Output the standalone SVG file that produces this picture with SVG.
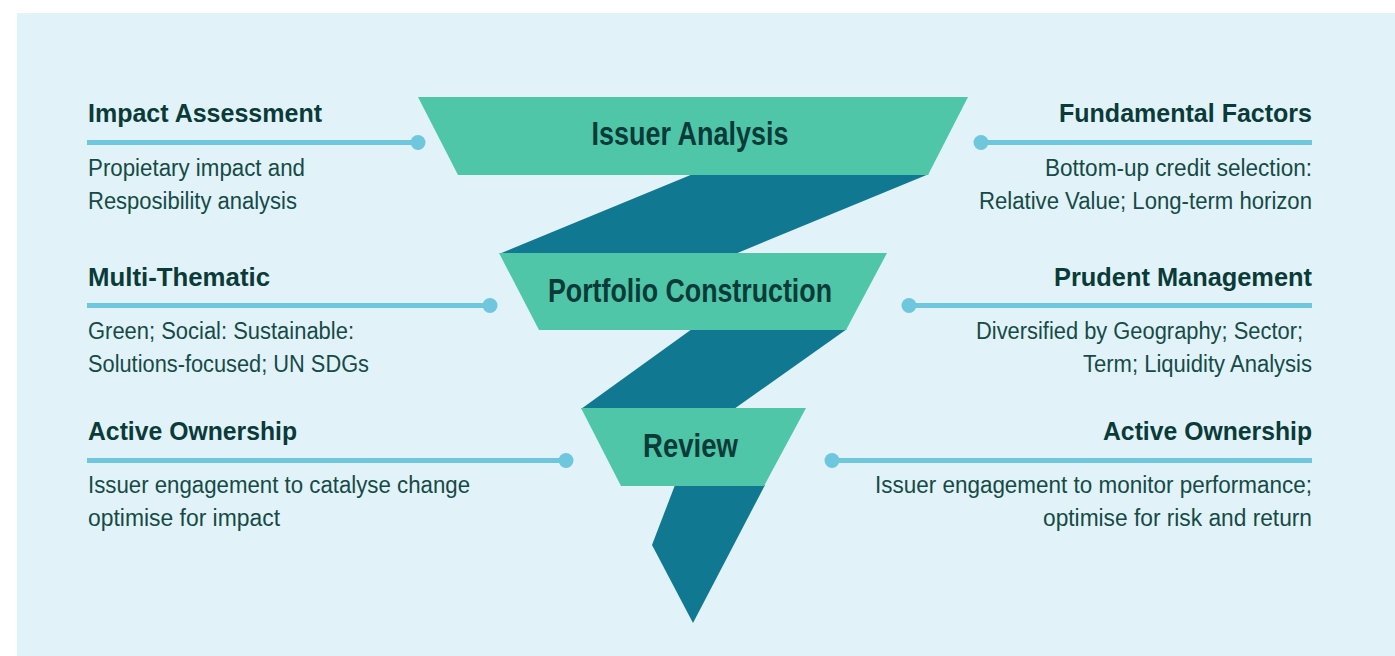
<svg xmlns="http://www.w3.org/2000/svg" width="1395" height="656" viewBox="0 0 1395 656">
  <style>
    .panel { fill: #E1F3F8; }
    .stage { fill: #4FC6A7; }
    .band { fill: #117892; }
    .stage-label { font-family: "Liberation Sans", Arial, sans-serif; font-size: 33px; font-weight: bold; fill: #0A3B39; text-anchor: middle; }
    .head { font-family: "Liberation Sans", Arial, sans-serif; font-size: 26px; font-weight: bold; fill: #0A3B39; }
    .body { font-family: "Liberation Sans", Arial, sans-serif; font-size: 23px; fill: #164A47; }
    .end { text-anchor: end; }
    .link { stroke: #6EC7DC; stroke-width: 5; fill: none; }
    .dot { fill: #6EC7DC; }
  </style>

  <!-- background panel -->
  <rect class="panel" x="17" y="13" width="1378" height="643"/>

  <!-- dark folds of the funnel ribbon -->
  <g id="funnel-bands">
    <polygon class="band" points="693,174 929,174 735,254 499,254"/>
    <polygon class="band" points="692,329 847,329 734,409 581,409"/>
    <polygon class="band" points="675,485 765,485 693,623 652,545"/>
  </g>

  <!-- funnel stages -->
  <g id="stage-issuer-analysis">
    <polygon class="stage" points="418,97 968,97 928,175 458,175"/>
    <text class="stage-label" x="690" y="145" textLength="197" lengthAdjust="spacingAndGlyphs">Issuer Analysis</text>
  </g>
  <g id="stage-portfolio-construction">
    <polygon class="stage" points="499,253 887,253 846,330 539,330"/>
    <text class="stage-label" x="690" y="301.5" textLength="284" lengthAdjust="spacingAndGlyphs">Portfolio Construction</text>
  </g>
  <g id="stage-review">
    <polygon class="stage" points="581,408 806,408 764,486 621,486"/>
    <text class="stage-label" x="690.5" y="457" textLength="95" lengthAdjust="spacingAndGlyphs">Review</text>
  </g>

  <!-- leader lines from the stages to the side notes -->
  <g id="connectors">
    <line class="link" x1="87" y1="142.5" x2="418" y2="142.5"/>
    <circle class="dot" cx="418" cy="142.5" r="7.5"/>
    <line class="link" x1="981" y1="142.5" x2="1312" y2="142.5"/>
    <circle class="dot" cx="981" cy="142.5" r="7.5"/>

    <line class="link" x1="87" y1="305.5" x2="490" y2="305.5"/>
    <circle class="dot" cx="490" cy="305.5" r="7.5"/>
    <line class="link" x1="909" y1="305.5" x2="1312" y2="305.5"/>
    <circle class="dot" cx="909" cy="305.5" r="7.5"/>

    <line class="link" x1="87" y1="460.5" x2="566" y2="460.5"/>
    <circle class="dot" cx="566" cy="460.5" r="7.5"/>
    <line class="link" x1="832" y1="460.5" x2="1312" y2="460.5"/>
    <circle class="dot" cx="832" cy="460.5" r="7.5"/>
  </g>

  <!-- left notes -->
  <g id="note-impact-assessment">
    <text class="head" x="88" y="122" textLength="234" lengthAdjust="spacingAndGlyphs">Impact Assessment</text>
    <text class="body" x="88" y="176" textLength="217" lengthAdjust="spacingAndGlyphs">Propietary impact and</text>
    <text class="body" x="88" y="209" textLength="209" lengthAdjust="spacingAndGlyphs">Resposibility analysis</text>
  </g>
  <g id="note-multi-thematic">
    <text class="head" x="88" y="285.5" textLength="182" lengthAdjust="spacingAndGlyphs">Multi-Thematic</text>
    <text class="body" x="88" y="338.5" textLength="266" lengthAdjust="spacingAndGlyphs">Green; Social: Sustainable:</text>
    <text class="body" x="88" y="371.5" textLength="281" lengthAdjust="spacingAndGlyphs">Solutions-focused; UN SDGs</text>
  </g>
  <g id="note-active-ownership-left">
    <text class="head" x="88" y="440" textLength="209" lengthAdjust="spacingAndGlyphs">Active Ownership</text>
    <text class="body" x="88" y="493" textLength="382" lengthAdjust="spacingAndGlyphs">Issuer engagement to catalyse change</text>
    <text class="body" x="88" y="526" textLength="192" lengthAdjust="spacingAndGlyphs">optimise for impact</text>
  </g>

  <!-- right notes -->
  <g id="note-fundamental-factors">
    <text class="head end" x="1312" y="122" textLength="253" lengthAdjust="spacingAndGlyphs">Fundamental Factors</text>
    <text class="body end" x="1312" y="176" textLength="267" lengthAdjust="spacingAndGlyphs">Bottom-up credit selection:</text>
    <text class="body end" x="1312" y="209" textLength="333" lengthAdjust="spacingAndGlyphs">Relative Value; Long-term horizon</text>
  </g>
  <g id="note-prudent-management">
    <text class="head end" x="1312" y="285.5" textLength="258" lengthAdjust="spacingAndGlyphs">Prudent Management</text>
    <text class="body end" x="1303" y="338.5" textLength="327" lengthAdjust="spacingAndGlyphs">Diversified by Geography; Sector;</text>
    <text class="body end" x="1312" y="371.5" textLength="229" lengthAdjust="spacingAndGlyphs">Term; Liquidity Analysis</text>
  </g>
  <g id="note-active-ownership-right">
    <text class="head end" x="1312" y="440" textLength="209" lengthAdjust="spacingAndGlyphs">Active Ownership</text>
    <text class="body end" x="1312" y="493" textLength="437" lengthAdjust="spacingAndGlyphs">Issuer engagement to monitor performance;</text>
    <text class="body end" x="1312" y="526" textLength="269" lengthAdjust="spacingAndGlyphs">optimise for risk and return</text>
  </g>
</svg>
